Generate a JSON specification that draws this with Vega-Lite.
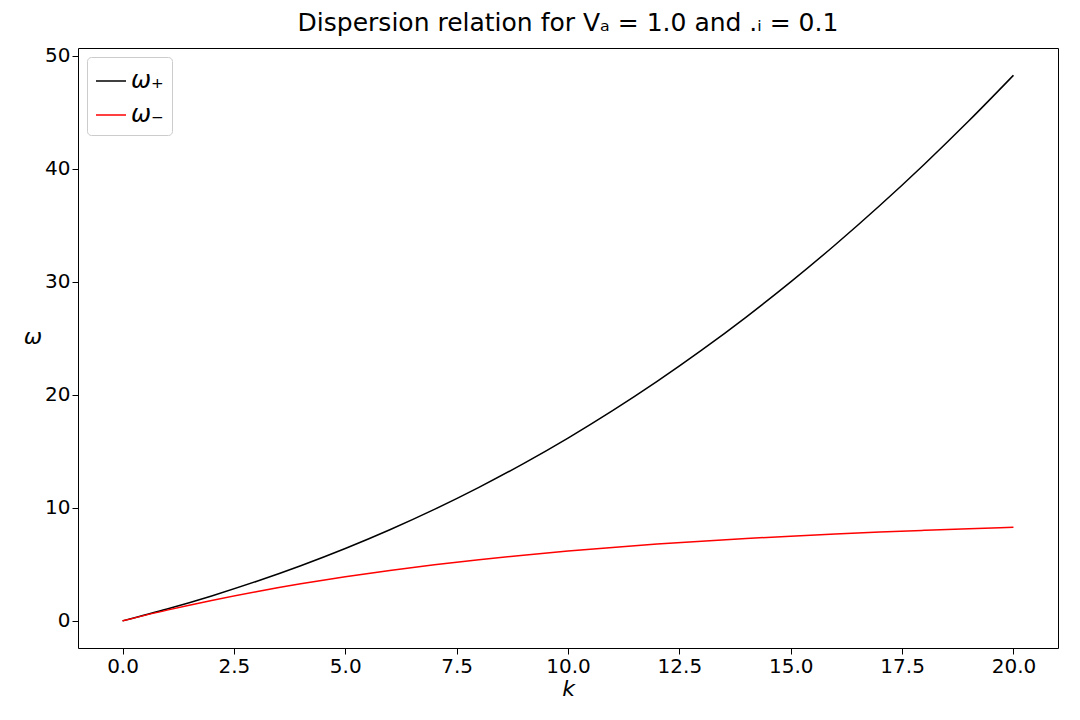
{
  "$schema": "https://vega.github.io/schema/vega-lite/v6.json",
  "width": 980,
  "height": 600,
  "autosize": "none",
  "padding": {"left": 78, "top": 48, "right": 22, "bottom": 72},
  "background": "white",
  "title": {"text": "Dispersion relation for Vₐ = 1.0 and .ᵢ = 0.1", "fontSize": 25, "fontWeight": "normal", "font": "DejaVu Sans", "offset": 10, "color": "black"},
  "config": {
    "view": {"stroke": "black", "strokeWidth": 1},
    "axis": {"grid": false, "labelFontSize": 20, "titleFontSize": 22, "labelFont": "DejaVu Sans", "titleFont": "DejaVu Sans", "titleFontWeight": "normal", "titleFontStyle": "italic", "domain": false, "tickColor": "black", "labelColor": "black", "titleColor": "black", "tickSize": 6}
  },
  "data": {
    "values": [
      {"k": 0, "s": "ω₊", "w": 0}, {"k": 1, "s": "ω₊", "w": 1.051}, {"k": 2, "s": "ω₊", "w": 2.21}, {"k": 3, "s": "ω₊", "w": 3.484}, {"k": 4, "s": "ω₊", "w": 4.879}, {"k": 5, "s": "ω₊", "w": 6.404}, {"k": 6, "s": "ω₊", "w": 8.064}, {"k": 7, "s": "ω₊", "w": 9.866}, {"k": 8, "s": "ω₊", "w": 11.816}, {"k": 9, "s": "ω₊", "w": 13.919}, {"k": 10, "s": "ω₊", "w": 16.18}, {"k": 11, "s": "ω₊", "w": 18.604}, {"k": 12, "s": "ω₊", "w": 21.194}, {"k": 13, "s": "ω₊", "w": 23.955}, {"k": 14, "s": "ω₊", "w": 26.889}, {"k": 15, "s": "ω₊", "w": 30.0}, {"k": 16, "s": "ω₊", "w": 33.29}, {"k": 17, "s": "ω₊", "w": 36.761}, {"k": 18, "s": "ω₊", "w": 40.416}, {"k": 19, "s": "ω₊", "w": 44.257}, {"k": 20, "s": "ω₊", "w": 48.284},
      {"k": 0, "s": "ω₋", "w": 0}, {"k": 1, "s": "ω₋", "w": 0.951}, {"k": 2, "s": "ω₋", "w": 1.81}, {"k": 3, "s": "ω₋", "w": 2.584}, {"k": 4, "s": "ω₋", "w": 3.279}, {"k": 5, "s": "ω₋", "w": 3.904}, {"k": 6, "s": "ω₋", "w": 4.464}, {"k": 7, "s": "ω₋", "w": 4.966}, {"k": 8, "s": "ω₋", "w": 5.416}, {"k": 9, "s": "ω₋", "w": 5.819}, {"k": 10, "s": "ω₋", "w": 6.18}, {"k": 11, "s": "ω₋", "w": 6.504}, {"k": 12, "s": "ω₋", "w": 6.794}, {"k": 13, "s": "ω₋", "w": 7.055}, {"k": 14, "s": "ω₋", "w": 7.289}, {"k": 15, "s": "ω₋", "w": 7.5}, {"k": 16, "s": "ω₋", "w": 7.69}, {"k": 17, "s": "ω₋", "w": 7.861}, {"k": 18, "s": "ω₋", "w": 8.016}, {"k": 19, "s": "ω₋", "w": 8.157}, {"k": 20, "s": "ω₋", "w": 8.284}
    ]
  },
  "mark": {"type": "line", "interpolate": "monotone", "strokeWidth": 1.5},
  "encoding": {
    "x": {"field": "k", "type": "quantitative", "scale": {"domain": [-1, 21], "nice": false, "zero": false}, "axis": {"title": "k", "values": [0, 2.5, 5, 7.5, 10, 12.5, 15, 17.5, 20], "format": ".1f", "titlePadding": 2}},
    "y": {"field": "w", "type": "quantitative", "scale": {"domain": [-2.4, 50.7], "nice": false, "zero": false}, "axis": {"title": "ω", "values": [0, 10, 20, 30, 40, 50], "titleAngle": 0, "titleFontStyle": "italic", "titlePadding": 12}},
    "color": {"field": "s", "type": "nominal", "scale": {"domain": ["ω₊", "ω₋"], "range": ["black", "red"]}, "legend": {"title": null, "orient": "top-left", "symbolType": "stroke", "symbolSize": 900, "symbolStrokeWidth": 1.5, "labelFontSize": 24, "labelFontStyle": "italic", "labelFont": "DejaVu Sans", "strokeColor": "#cccccc", "fillColor": "white", "padding": 8, "cornerRadius": 4, "offset": 9, "rowPadding": 6}}
  }
}
